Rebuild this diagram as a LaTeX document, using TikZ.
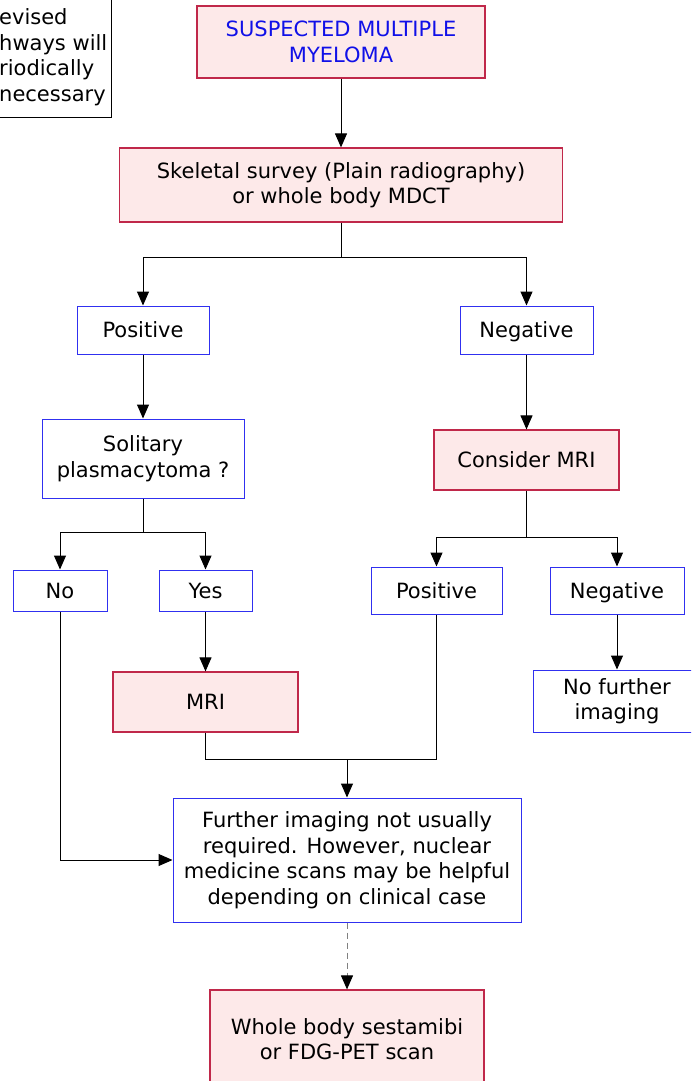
\documentclass[tikz,border=0pt]{standalone}
\usepackage{fontspec}
\setmainfont{DejaVu Sans}
\usetikzlibrary{arrows.meta}

\definecolor{boxpink}{HTML}{FDE9E9}
\definecolor{boxred}{HTML}{C0284A}
\definecolor{boxblue}{HTML}{3030F0}
\definecolor{textblue}{HTML}{1010E8}

\tikzset{
  pinkbox/.style={draw=boxred, fill=boxpink, line width=1.2pt, align=center, inner sep=0pt},
  bluebox/.style={draw=boxblue, fill=white, line width=1pt, align=center, inner sep=0pt},
  oneline/.style={text height=17pt, text depth=2pt},
  link/.style={-{Triangle[length=14pt,width=12pt]}, line width=1pt},
}

\begin{document}
\begin{tikzpicture}[x=1pt,y=-1pt,font=\fontsize{21}{25.5}\selectfont]

\clip (0,0) rectangle (691,1081);
\useasboundingbox (0,0) rectangle (691,1081);

% Note in the corner
\node[draw, line width=1pt, minimum width=200pt, minimum height=130pt, anchor=north east] (note) at (112,-13) {};
\node[anchor=west, align=left, inner sep=0pt] (notetext) at (-1,57) {evised\\hways will\\riodically\\necessary};

% Start
\node[pinkbox, minimum width=288pt, minimum height=72pt, text=textblue] (start) at (341,42) {SUSPECTED MULTIPLE\\MYELOMA};

% Skeletal survey
\node[pinkbox, minimum width=443pt, minimum height=74pt] (skel) at (341,185) {Skeletal survey (Plain radiography)\\or whole body MDCT};

% First split
\node[bluebox, oneline, minimum width=132pt, minimum height=48pt] (posA) at (143,330) {Positive};
\node[bluebox, oneline, minimum width=133pt, minimum height=48pt] (negA) at (526.5,330) {Negative};

% Left branch
\node[bluebox, minimum width=202pt, minimum height=79pt] (solit) at (143,458.5) {Solitary\\plasmacytoma ?};
\node[bluebox, oneline, minimum width=94pt, minimum height=41pt] (no) at (60,590.5) {No};
\node[bluebox, oneline, minimum width=93pt, minimum height=41pt] (yes) at (205.5,590.5) {Yes};
\node[pinkbox, oneline, minimum width=185pt, minimum height=60pt] (mri) at (205.5,702) {MRI};

% Right branch
\node[pinkbox, oneline, minimum width=185pt, minimum height=60pt] (cmri) at (526.5,460) {Consider MRI};
\node[bluebox, oneline, minimum width=131pt, minimum height=47pt] (posB) at (436.5,590.5) {Positive};
\node[bluebox, oneline, minimum width=134pt, minimum height=47pt] (negB) at (617,590.5) {Negative};
\node[bluebox, minimum width=168pt, minimum height=62pt] (nofur) at (617,701) {No further\\imaging};

% Bottom
\node[bluebox, minimum width=348pt, minimum height=124pt] (further) at (347,860) {Further imaging not usually\\required. However, nuclear\\medicine scans may be helpful\\depending on clinical case};
\node[pinkbox, minimum width=274pt, minimum height=98pt] (whole) at (347,1039) {Whole body sestamibi\\or FDG-PET scan};

% Branch points
\coordinate (sk) at (341,257);
\coordinate (so) at (143,532);
\coordinate (cm) at (526.5,537);
\coordinate (mg) at (347,759);

% Connectors
\draw[link] (start) -- (skel);
\draw[line width=1pt] (skel) -- (sk);
\draw[link] (sk) -| (posA);
\draw[link] (sk) -| (negA);
\draw[link] (posA) -- (solit);
\draw[link] (negA) -- (cmri);
\draw[line width=1pt] (solit) -- (so);
\draw[link] (so) -| (no);
\draw[link] (so) -| (yes);
\draw[line width=1pt] (cmri) -- (cm);
\draw[link] (cm) -| (posB);
\draw[link] (cm) -| (negB);
\draw[link] (yes) -- (mri);
\draw[link] (negB) -- (nofur);
\draw[line width=1pt] (mri) |- (mg);
\draw[line width=1pt] (posB) |- (mg);
\draw[link] (mg) -- (further);
\draw[link] (no) |- (further);
\draw[-{Triangle[length=14pt,width=12pt,color=black]}, line width=1pt, draw=gray, dash pattern=on 6pt off 4pt] (further) -- (whole);

\end{tikzpicture}
\end{document}
